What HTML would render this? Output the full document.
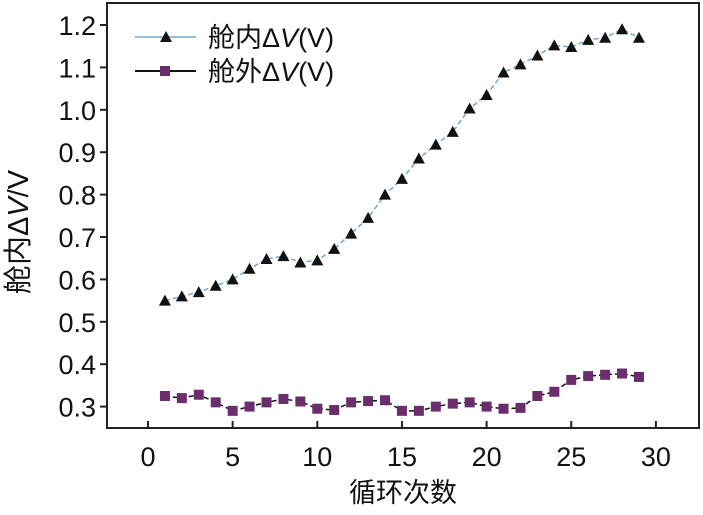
<!DOCTYPE html>
<html><head><meta charset="utf-8"><style>
body{margin:0;background:#fff}
svg text{font-family:"Liberation Sans","Noto Sans CJK SC",sans-serif;fill:#111}
</style></head><body>
<svg id="chart" width="703" height="510">
<rect x="107" y="3" width="592" height="425" fill="none" stroke="#222" stroke-width="2"/>
<g id="axes"></g>
<g id="series"></g>
<text x="28" y="232" font-size="29" transform="rotate(-90 28 232)" text-anchor="middle">舱内Δ<tspan font-style="italic">V</tspan>/V</text>
<text x="403" y="502" font-size="27" text-anchor="middle">循环次数</text>
<g>
<line x1="135" y1="37" x2="196" y2="37" stroke="#6fa8d0" stroke-width="1.5"/>
<polygon points="166,31 172,42 160,42" fill="#111"/>
<text x="208" y="47" font-size="27">舱内Δ<tspan font-style="italic">V</tspan>(V)</text>
<line x1="135" y1="71" x2="196" y2="71" stroke="#111" stroke-width="2"/>
<rect x="160" y="66" width="10" height="10" fill="#6b2d6b"/>
<text x="208" y="81" font-size="27">舱外Δ<tspan font-style="italic">V</tspan>(V)</text>
</g>
</svg>
<script>
const cycles=[1,2,3,4,5,6,7,8,9,10,11,12,13,14,15,16,17,18,19,20,21,22,23,24,25,26,27,28,29];
const innerDV=[0.55,0.56,0.57,0.585,0.60,0.625,0.648,0.655,0.64,0.645,0.672,0.708,0.745,0.80,0.837,0.885,0.918,0.948,1.003,1.035,1.088,1.107,1.128,1.152,1.148,1.165,1.170,1.190,1.170];
const outerDV=[0.325,0.32,0.328,0.31,0.29,0.30,0.31,0.318,0.312,0.295,0.292,0.31,0.313,0.315,0.29,0.29,0.30,0.307,0.31,0.30,0.295,0.297,0.325,0.335,0.363,0.372,0.375,0.378,0.37];
const xTicks=[0,5,10,15,20,25,30];
const yTicks=[0.3,0.4,0.5,0.6,0.7,0.8,0.9,1.0,1.1,1.2];
const NS="http://www.w3.org/2000/svg";
const X=v=>148+v*16.93, Y=v=>25+(1.2-v)*424;
function mk(t,a,p){const e=document.createElementNS(NS,t);for(const k in a)e.setAttribute(k,a[k]);p.appendChild(e);return e;}
const ax=document.getElementById('axes'), sg=document.getElementById('series');
xTicks.forEach(t=>{
 const l=mk('line',{x1:X(t),x2:X(t),y1:428,y2:421,stroke:'#222','stroke-width':2},ax);
 
 
 const s=mk('text',{x:X(t),y:466,'font-size':27,'text-anchor':'middle'},ax);s.textContent=t;
 
 
});
yTicks.forEach(t=>{
 const l=mk('line',{x1:100,x2:107,y1:Y(t),y2:Y(t),stroke:'#222','stroke-width':2},ax);
 
 
 const s=mk('text',{x:96,y:Y(t)+10,'font-size':27,'text-anchor':'end'},ax);s.textContent=t.toFixed(1);
 
 
});
const p1=mk('polyline',{points:cycles.map((c,i)=>X(c)+','+Y(innerDV[i])).join(' '),fill:'none',stroke:'#6fa8d0','stroke-width':1.5,'stroke-dasharray':'5,3'},sg);


const p2=mk('polyline',{points:cycles.map((c,i)=>X(c)+','+Y(outerDV[i])).join(' '),fill:'none',stroke:'#111','stroke-width':1.5,'stroke-dasharray':'5,3'},sg);


cycles.forEach((c,i)=>{
 const x=X(c),y=Y(innerDV[i]);
 const t=mk('polygon',{points:`${x},${y-6} ${x+6},${y+5} ${x-6},${y+5}`,fill:'#111'},sg);
 
 
 const y2=Y(outerDV[i]);
 const r=mk('rect',{x:x-5,y:y2-5,width:10,height:10,fill:'#6b2d6b'},sg);
 
 
});
</script>
</body></html>
